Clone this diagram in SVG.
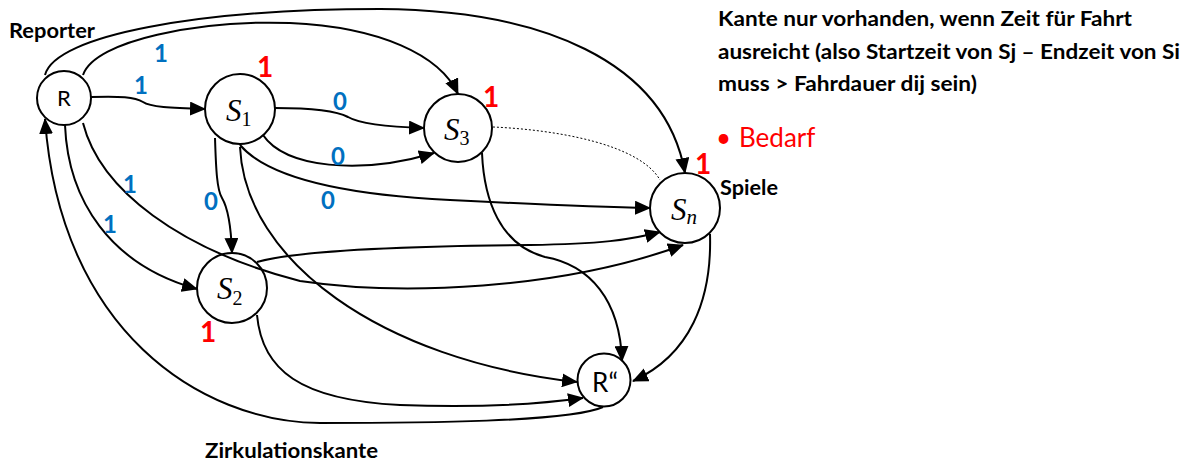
<svg xmlns="http://www.w3.org/2000/svg" width="1185" height="468" viewBox="0 0 1185 468">
<style>
.edge{fill:none;stroke:#000;stroke-width:2}
.dot{fill:none;stroke:#000;stroke-width:1;stroke-dasharray:2,2}
.node{fill:none;stroke:#000;stroke-width:2}
.lbl{font-family:Lato,"Liberation Sans",sans-serif;font-weight:bold;font-size:20px;fill:#000}
.blue{font-family:Lato,"Liberation Sans",sans-serif;font-weight:bold;font-size:24px;fill:#0070C0;text-anchor:middle}
.red{font-family:Lato,"Liberation Sans",sans-serif;font-weight:bold;font-size:28px;fill:#FF0000;text-anchor:middle}
.s{font-family:"Liberation Serif","Times New Roman",serif;font-style:italic;font-size:31px;fill:#000}
.sub{font-style:normal;font-size:20px}
.subi{font-style:italic;font-size:21px}
.r{font-family:Lato,"Liberation Sans",sans-serif;fill:#000;text-anchor:middle}
.r1{font-size:22px}
.r2{font-size:26px}
</style>
<defs>
<marker id="arr" viewBox="0 0 16 14" refX="15" refY="7" markerWidth="16" markerHeight="14" markerUnits="userSpaceOnUse" orient="auto">
<path d="M0,0 L16,7 L0,14 z" fill="#000"/>
</marker>
</defs>

<g id="connectors">
<path id="e-R-S1" class="edge" marker-end="url(#arr)" d="M91,97 C120,96 135,97 143,102 C150,107 170,108 205,109"/>
<path id="e-R-S3" class="edge" marker-end="url(#arr)" d="M83,75 C95,40 200,20 290,23 C380,27 440,55 458,94"/>
<path id="e-R-Sn" class="edge" marker-end="url(#arr)" d="M45,75 C55,35 200,9 380,9 C540,10 665,60 685,173"/>
<path id="e-Rpp-R" class="edge" marker-end="url(#arr)" d="M603,407 C570,422 420,423 320,423 C200,422 60,330 45,119"/>
<path id="e-R-S2" class="edge" marker-end="url(#arr)" d="M65,125 C68,200 110,265 197,289"/>
<path id="e-R-Sn2" class="edge" marker-end="url(#arr)" d="M83,123 C100,190 180,250 300,281 C400,296 560,290 683,245"/>
<path id="e-S1-S2" class="edge" marker-end="url(#arr)" d="M215,138 C216,170 217,190 222,198 C228,208 231,225 232,253"/>
<path id="e-S1-S3a" class="edge" marker-end="url(#arr)" d="M275,108 C310,108 335,110 348,117 C360,124 390,127 424,128"/>
<path id="e-S1-S3b" class="edge" marker-end="url(#arr)" d="M263,135 C285,168 360,175 434,153"/>
<path id="e-S1-Sn" class="edge" marker-end="url(#arr)" d="M240,145 C270,180 350,195 450,200 C550,205 600,207 650,208"/>
<path id="e-S1-Rpp" class="edge" marker-end="url(#arr)" d="M240,147 C245,260 380,360 577,382"/>
<path id="e-S2-Sn" class="edge" marker-end="url(#arr)" d="M257,262 C300,250 400,246 530,245 C600,244 630,240 660,232"/>
<path id="e-S2-Rpp" class="edge" marker-end="url(#arr)" d="M257,315 C262,370 300,400 400,405 C480,408 540,404 583,398"/>
<path id="e-S3-Rpp" class="edge" marker-end="url(#arr)" d="M482,153 C484,200 500,245 545,257 C590,265 620,300 622,361"/>
<path id="e-Sn-Rpp" class="edge" marker-end="url(#arr)" d="M710,234 C712,300 690,355 633,381"/>
<path id="e-S3-Sn-dotted" class="dot" d="M493,127 C560,130 640,145 660,180"/>
</g>

<g id="edge-labels">
<text class="blue" x="161" y="62">1</text>
<text class="blue" x="141" y="94">1</text>
<text class="blue" x="340" y="110">0</text>
<text class="blue" x="338" y="165">0</text>
<text class="blue" x="130" y="193">1</text>
<text class="blue" x="328" y="209">0</text>
<text class="blue" x="211" y="210">0</text>
<text class="blue" x="110" y="233">1</text>
</g>

<g id="node-R">
<circle class="node" cx="64" cy="98" r="27"/>
<text class="r r1" x="64" y="106">R</text>
</g>
<g id="node-S1">
<circle class="node" cx="240" cy="109" r="35"/>
<text class="s" x="226" y="121">S<tspan class="sub" dy="5">1</tspan></text>
<text class="red" x="265" y="77">1</text>
</g>
<g id="node-S3">
<circle class="node" cx="458" cy="128" r="34"/>
<text class="s" x="444" y="140">S<tspan class="sub" dy="5">3</tspan></text>
<text class="red" x="491" y="107">1</text>
</g>
<g id="node-Sn">
<circle class="node" cx="685" cy="208" r="35"/>
<text class="s" x="671" y="220">S<tspan class="subi" dy="4">n</tspan></text>
<text class="red" x="703" y="174">1</text>
</g>
<g id="node-S2">
<circle class="node" cx="232" cy="288" r="35"/>
<text class="s" x="217" y="299">S<tspan class="sub" dy="6">2</tspan></text>
<text class="red" x="208" y="342">1</text>
</g>
<g id="node-Rpp">
<circle class="node" cx="604" cy="380" r="26.5"/>
<text class="r r2" x="605" y="392">R“</text>
</g>

<g id="annotations">
<text class="lbl" x="9" y="38" textLength="86" lengthAdjust="spacingAndGlyphs">Reporter</text>
<text class="lbl" x="720" y="195" textLength="58" lengthAdjust="spacingAndGlyphs">Spiele</text>
<text class="lbl" x="205" y="458" textLength="173" lengthAdjust="spacingAndGlyphs">Zirkulationskante</text>
<text class="lbl" x="718" y="26" textLength="414" lengthAdjust="spacingAndGlyphs">Kante nur vorhanden, wenn Zeit für Fahrt</text>
<text class="lbl" x="718" y="59" textLength="462" lengthAdjust="spacingAndGlyphs">ausreicht (also Startzeit von Sj – Endzeit von Si</text>
<text class="lbl" x="718" y="91" textLength="259" lengthAdjust="spacingAndGlyphs">muss &gt; Fahrdauer dij sein)</text>
<text font-family="Lato,'Liberation Sans',sans-serif" font-size="26" fill="#FF0000" y="147"><tspan x="716">•</tspan><tspan x="739">Bedarf</tspan></text>
</g>
</svg>
